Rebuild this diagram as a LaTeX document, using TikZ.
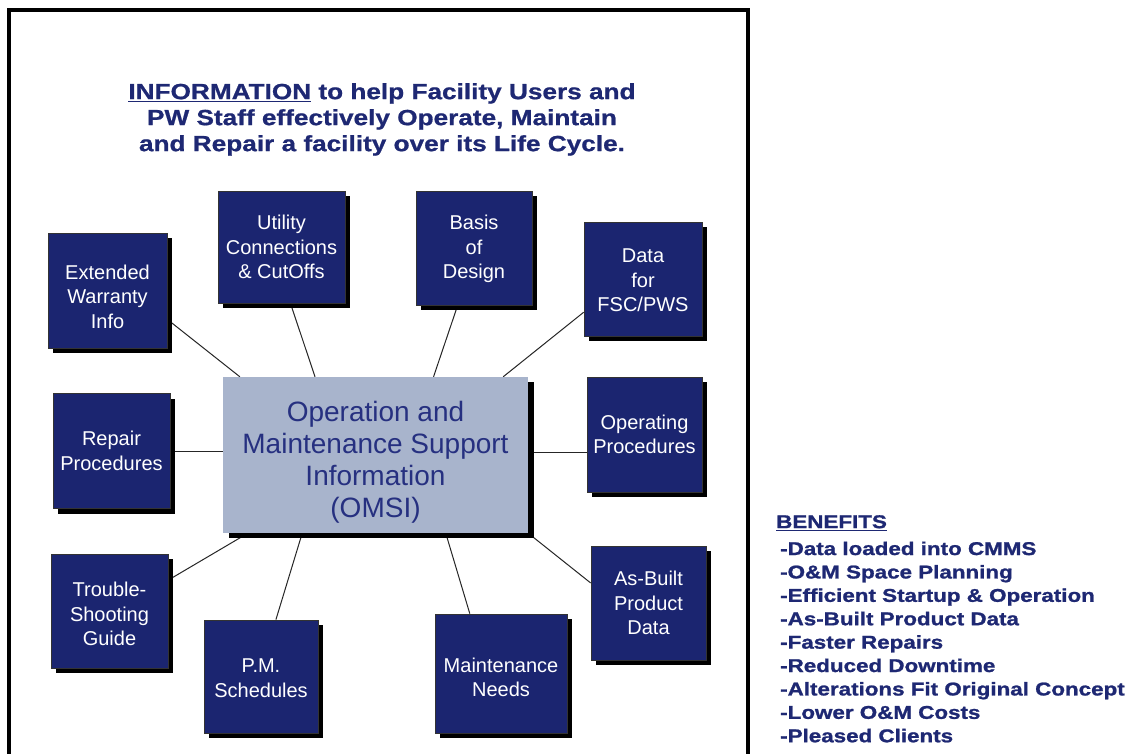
\documentclass[tikz,border=0pt]{standalone}
\usepackage{fontspec}
\setmainfont{Liberation Sans}
\newfontfamily\titlefont[FakeStretch=1.19,FakeBold=0.8]{Liberation Sans}
\newfontfamily\benfont[FakeStretch=1.21,FakeBold=1.2]{Liberation Sans}
\usetikzlibrary{calc,shadows}
\definecolor{navy}{RGB}{27,37,112}
\definecolor{steel}{RGB}{168,180,204}
\definecolor{ctext}{RGB}{38,48,128}
\definecolor{ttext}{RGB}{30,40,115}
\pgfdeclarelayer{bg}
\pgfsetlayers{bg,main}
\begin{document}
\begin{tikzpicture}[x=1pt,y=-1pt,
  tile/.style={fill=navy, draw=black!80, line width=0.8pt, text=white, align=center, inner sep=0pt,
    font=\fontsize{20}{24.5}\selectfont,
    drop shadow={shadow xshift=5pt, shadow yshift=-5pt, fill=black, opacity=1}},
  hub/.style={fill=steel, draw=none, text=ctext, align=center, inner sep=0pt,
    font=\fontsize{28}{32}\selectfont,
    drop shadow={shadow xshift=6pt, shadow yshift=-5pt, fill=black, opacity=1}},
  link/.style={draw=black!85, line width=1pt},
  frame/.style={draw=black, line width=4pt}]
\useasboundingbox (0,0) rectangle (1131,753);
\begin{pgfonlayer}{bg}
\fill[white] (0,0) rectangle (1131,753);
\end{pgfonlayer}
\draw[frame] (9,775) -- (9,10) -- (748,10) -- (748,775);

\node[anchor=north, align=center, inner sep=0pt, text=ttext,
  font=\titlefont\bfseries\fontsize{22}{26}\selectfont] (title) at (382,83)
  {\underline{INFORMATION} to help Facility Users and\\PW Staff effectively Operate, Maintain\\and Repair a facility over its Life Cycle.};

\node[hub, minimum width=305pt, minimum height=156pt] (c) at (375.5,455)
  {\rule{0pt}{34.4pt}Operation and\\Maintenance Support\\Information\\(OMSI)};

\node[tile, minimum width=119pt, minimum height=115pt] (ext) at (107.5,290.5) {\rule{0pt}{26.6pt}Extended\\Warranty\\Info};
\node[tile, minimum width=127pt, minimum height=112pt] (util) at (281.5,247) {Utility\\Connections\\\& CutOffs};
\node[tile, minimum width=116pt, minimum height=114pt] (basis) at (474,248) {\rule{0pt}{17pt}Basis\\of\\Design};
\node[tile, minimum width=118pt, minimum height=114pt] (data) at (643,279) {\rule{0pt}{17pt}Data\\for\\FSC/PWS};
\node[tile, minimum width=117pt, minimum height=115pt] (rep) at (111.5,451) {Repair\\Procedures};
\node[tile, minimum width=115pt, minimum height=115pt] (op) at (644.5,434.5) {Operating\\Procedures};
\node[tile, minimum width=117pt, minimum height=114pt] (trouble) at (109.5,611) {\rule{0pt}{20.6pt}Trouble-\\Shooting\\Guide};
\node[tile, minimum width=114pt, minimum height=113pt] (pm) at (261,676.5) {\rule{0pt}{17pt}P.M.\\Schedules};
\node[tile, minimum width=132pt, minimum height=119pt] (maint) at (501,673.5) {\rule{0pt}{22.6pt}Maintenance\\Needs};
\node[tile, minimum width=115pt, minimum height=114pt] (asb) at (648.5,603) {As-Built\\Product\\Data};

\begin{pgfonlayer}{bg}
\draw[link] ($(ext.north east)!0.75!(ext.south east)$) -- ($(c.north west)!0.056!(c.north east)$);
\draw[link] ($(util.south west)!0.57!(util.south east)$) -- ($(c.north west)!0.302!(c.north east)$);
\draw[link] ($(basis.south west)!0.36!(basis.south east)$) -- ($(c.north west)!0.69!(c.north east)$);
\draw[link] ($(data.north west)!0.79!(data.south west)$) -- ($(c.north west)!0.918!(c.north east)$);
\draw[link] (rep.east) -- (rep.east -| c.west);
\draw[link] ($(c.north east)!0.487!(c.south east)$) coordinate (opl) -- (opl -| op.west);
\draw[link] ($(c.south west)!0.082!(c.south east)$) -- ($(trouble.north east)!0.23!(trouble.south east)$);
\draw[link] ($(c.south west)!0.26!(c.south east)$) -- ($(pm.north west)!0.63!(pm.north east)$);
\draw[link] ($(c.south west)!0.73!(c.south east)$) -- ($(maint.north west)!0.265!(maint.north east)$);
\draw[link] (c.south east) -- ($(asb.north west)!0.325!(asb.south west)$);
\end{pgfonlayer}

\node[anchor=north west, align=left, inner sep=0pt, text=ttext,
  font=\benfont\bfseries\fontsize{18.5}{23.4}\selectfont] (ben) at (776,515)
  {\underline{BENEFITS}\\[3.5pt]
   \hspace*{4pt}-Data loaded into CMMS\\
   \hspace*{4pt}-O\&M Space Planning\\
   \hspace*{4pt}-Efficient Startup \& Operation\\
   \hspace*{4pt}-As-Built Product Data\\
   \hspace*{4pt}-Faster Repairs\\
   \hspace*{4pt}-Reduced Downtime\\
   \hspace*{4pt}-Alterations Fit Original Concept\\
   \hspace*{4pt}-Lower O\&M Costs\\
   \hspace*{4pt}-Pleased Clients};
\end{tikzpicture}
\end{document}
